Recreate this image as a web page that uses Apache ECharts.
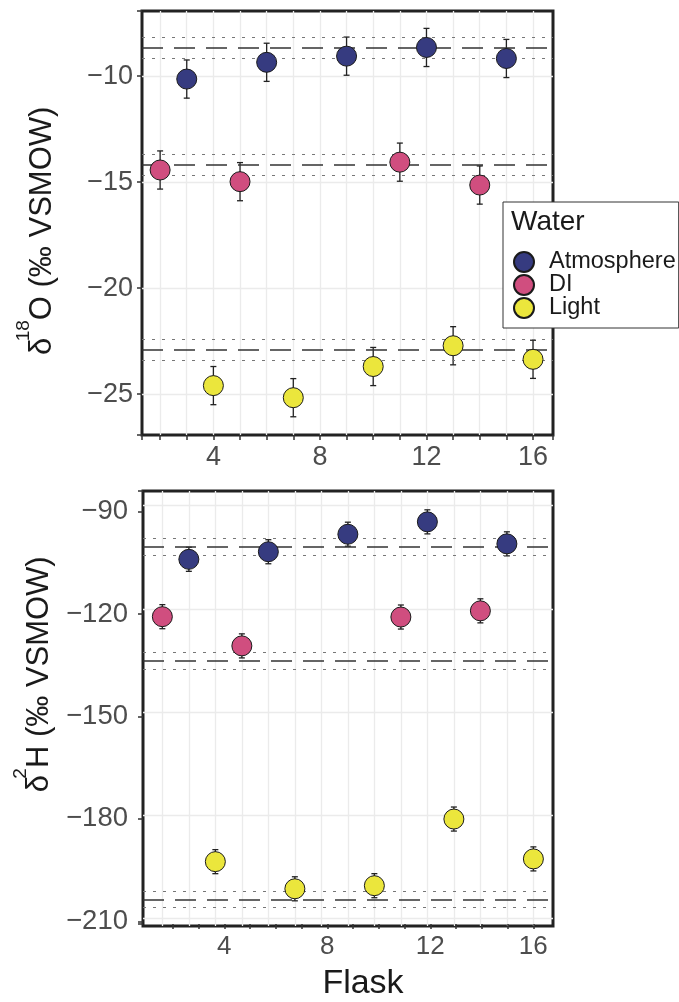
<!DOCTYPE html>
<html>
<head>
<meta charset="utf-8">
<script src="https://cdn.jsdelivr.net/npm/echarts@6/dist/echarts.min.js"></script>
<style>
  html, body { margin: 0; padding: 0; background: #fff; }
  #chart { width: 679px; height: 1002px; }
</style>
</head>
<body>
<div id="chart"></div>
<script>
// ---- data ----
const waterTypes = ['Atmosphere', 'DI', 'Light'];

const flaskAtm = [3, 6, 9, 12, 15];
const flaskDI = [2, 5, 11, 14];
const flaskLight = [4, 7, 10, 13, 16];

// delta 18O (permil VSMOW)
const d18OAtm = [-10.14, -9.35, -9.06, -8.65, -9.17];
const d18ODI = [-14.43, -14.98, -14.06, -15.14];
const d18OLight = [-24.6, -25.17, -23.7, -22.72, -23.36];
const d18OErr = 0.9;
const d18OMean = [-8.68, -14.2, -22.92];   // Atmosphere, DI, Light
const d18OSd = [0.5, 0.5, 0.5];

// delta 2H (permil VSMOW)
const d2HAtm = [-105.6, -103.4, -98.3, -94.7, -101.1];
const d2HDI = [-122.3, -130.8, -122.4, -120.6];
const d2HLight = [-193.6, -201.5, -200.6, -181.2, -192.8];
const d2HErr = 3.5;
const d2HMean = [-102.0, -135.1, -204.6];
const d2HSd = [2.4, 2.4, 2.4];

const flaskTicks = [2, 3, 4, 5, 6, 7, 8, 9, 10, 11, 12, 13, 14, 15, 16];
const xTickLabels = [4, 8, 12, 16];
const d18OTicks = [-10, -15, -20, -25];
const d2HTicks = [-90, -120, -150, -180, -210];

// ---- styles ----
const FONT = 'Liberation Sans';
const colors = ['#363b80', '#d04e7f', '#ebe63c'];
const gridColor = '#ebebeb';
const tickColor = '#333';
const labelColor = '#4d4d4d';

const flaskSets = [flaskAtm, flaskDI, flaskLight];
const d18OSets = [d18OAtm, d18ODI, d18OLight];
const d2HSets = [d2HAtm, d2HDI, d2HLight];

function nearInt(v) {
  return Math.abs(v - Math.round(v)) < 1e-6;
}
function minus(v) {
  return v < 0 ? '\u2212' + Math.abs(v) : String(v);
}
function pickLabel(list) {
  return function (v) {
    if (!nearInt(v)) return '';
    const r = Math.round(v);
    return list.indexOf(r) >= 0 ? minus(r) : '';
  };
}

function scatterSeries(ys, axis) {
  return ys.map(function (set, k) {
    return {
      type: 'scatter',
      name: waterTypes[k],
      xAxisIndex: axis,
      yAxisIndex: axis,
      symbolSize: 20,
      z: 5,
      itemStyle: { color: colors[k], borderColor: '#1a1a1a', borderWidth: 1, opacity: 1 },
      data: flaskSets[k].map(function (x, i) { return [x, set[i]]; })
    };
  });
}

function errorBars(params, api) {
  const x = api.value(0);
  const top = api.coord([x, api.value(2)]);
  const bot = api.coord([x, api.value(1)]);
  const st = { stroke: '#222', lineWidth: 1.3 };
  return {
    type: 'group',
    children: [
      { type: 'line', shape: { x1: top[0], y1: top[1], x2: bot[0], y2: bot[1] }, style: st },
      { type: 'line', shape: { x1: top[0] - 3, y1: top[1], x2: top[0] + 3, y2: top[1] }, style: st },
      { type: 'line', shape: { x1: bot[0] - 3, y1: bot[1], x2: bot[0] + 3, y2: bot[1] }, style: st }
    ]
  };
}

function errorSeries(ys, err, means, sds, axis) {
  const rows = [];
  ys.forEach(function (set, k) {
    flaskSets[k].forEach(function (x, i) { rows.push([x, set[i] - err, set[i] + err]); });
  });
  const lines = [];
  means.forEach(function (m, k) {
    lines.push({ yAxis: m, lineStyle: { type: [21, 11], color: '#333', width: 1.5 } });
    lines.push({ yAxis: m + sds[k], lineStyle: { type: [3, 7], color: '#777', width: 1.2 } });
    lines.push({ yAxis: m - sds[k], lineStyle: { type: [3, 7], color: '#777', width: 1.2 } });
  });
  return {
    type: 'custom',
    xAxisIndex: axis,
    yAxisIndex: axis,
    z: 3,
    renderItem: errorBars,
    encode: { x: 0, y: [1, 2] },
    data: rows,
    markLine: { silent: true, symbol: 'none', label: { show: false }, data: lines }
  };
}

const tickStyle = { show: true, length: 5, lineStyle: { color: tickColor, width: 1.5 } };
const splitStyle = { show: true, showMinLine: false, showMaxLine: false, lineStyle: { color: gridColor, width: 1.3 } };

function yName(sup, rest, pad) {
  return {
    name: '{d0|δ}{s|' + sup + '}{d|' + rest + '}',
    nameLocation: 'middle',
    nameRotate: 90,
    nameTextStyle: {
      color: '#1a1a1a',
      fontFamily: FONT,
      padding: pad,
      rich: {
        d0: { fontSize: 31, lineHeight: 44, width: 10, verticalAlign: 'bottom', fontFamily: FONT, color: '#1a1a1a' },
        s: { fontSize: 19, lineHeight: 19, verticalAlign: 'top', fontFamily: FONT, color: '#1a1a1a' },
        d: { fontSize: 31, lineHeight: 44, verticalAlign: 'bottom', fontFamily: FONT, color: '#1a1a1a' }
      }
    }
  };
}

const chart = echarts.init(document.getElementById('chart'));
chart.setOption({
  animation: false,
  backgroundColor: '#fff',
  title: {
    text: 'Water', left: 511, top: 208, padding: 0,
    textStyle: { fontFamily: FONT, fontSize: 28, fontWeight: 'normal', color: '#1a1a1a' }
  },
  legend: {
    data: waterTypes,
    orient: 'vertical',
    left: 503, top: 202,
    padding: [48, 3, 8, 10],
    itemWidth: 20, itemHeight: 20, itemGap: -1,
    icon: 'circle',
    backgroundColor: '#fff',
    borderColor: '#333', borderWidth: 1,
    textStyle: { fontFamily: FONT, fontSize: 23.5, lineHeight: 20, color: '#1a1a1a', padding: [0, 0, 0, 10] }
  },
  grid: [
    { left: 142, top: 11, width: 411, height: 424, show: true, borderColor: '#222', borderWidth: 3 },
    { left: 143, top: 491, width: 410, height: 435, show: true, borderColor: '#222', borderWidth: 3 },
    { left: 143, top: 491, width: 410, height: 435, show: false }
  ],
  xAxis: [
    {
      gridIndex: 0, type: 'value', min: 1.32, max: 16.75,
      splitNumber: 15, minInterval: 1, maxInterval: 1,
      axisLine: { show: false }, axisTick: tickStyle, splitLine: splitStyle,
      axisLabel: { interval: 0, margin: 9, fontFamily: FONT, fontSize: 27, color: labelColor, formatter: pickLabel(xTickLabels) }
    },
    {
      gridIndex: 1, type: 'value', min: 1.27, max: 16.74,
      splitNumber: 15, minInterval: 1, maxInterval: 1,
      axisLine: { show: false }, axisTick: { show: false }, axisLabel: { show: false }, splitLine: splitStyle
    },
    {
      gridIndex: 2, type: 'value', min: 0.843, max: 16.765,
      splitNumber: 16, minInterval: 1, maxInterval: 1,
      axisLine: { show: false }, splitLine: { show: false },
      axisTick: Object.assign({ customValues: flaskTicks }, tickStyle),
      axisLabel: { customValues: xTickLabels, interval: 0, margin: 10, fontFamily: FONT, fontSize: 26, color: labelColor, formatter: pickLabel(xTickLabels) },
      name: 'Flask', nameLocation: 'middle', nameGap: 43,
      nameTextStyle: { fontFamily: FONT, fontSize: 34, color: '#1a1a1a', padding: [0, 0, 0, 30] }
    }
  ],
  yAxis: [
    Object.assign({
      gridIndex: 0, type: 'value', min: -26.93, max: -6.93,
      splitNumber: 4, minInterval: 5, maxInterval: 5,
      axisLine: { show: false }, axisTick: tickStyle, splitLine: splitStyle,
      axisLabel: { interval: 0, margin: 9, fontFamily: FONT, fontSize: 27, color: labelColor, formatter: pickLabel(d18OTicks) },
      nameGap: 84
    }, yName('18', 'O (‰ VSMOW)', [0, 12, 0, 0])),
    {
      gridIndex: 1, type: 'value', min: -212.33, max: -85.72,
      splitNumber: 4, minInterval: 30, maxInterval: 30,
      axisLine: { show: false }, axisTick: { show: false }, axisLabel: { show: false }, splitLine: splitStyle
    },
    Object.assign({
      gridIndex: 2, type: 'value', min: -210.79, max: -83.96,
      splitNumber: 4, minInterval: 30, maxInterval: 30,
      axisLine: { show: false }, axisTick: tickStyle, splitLine: { show: false },
      axisLabel: { interval: 0, margin: 15, fontFamily: FONT, fontSize: 27.5, color: labelColor, formatter: pickLabel(d2HTicks) },
      nameGap: 88
    }, yName('2', 'H (‰ VSMOW)', [0, 0, 0, 70]))
  ],
  series: [].concat(
    [errorSeries(d18OSets, d18OErr, d18OMean, d18OSd, 0)],
    scatterSeries(d18OSets, 0),
    [errorSeries(d2HSets, d2HErr, d2HMean, d2HSd, 1)],
    scatterSeries(d2HSets, 1)
  )
});
</script>
</body>
</html>
